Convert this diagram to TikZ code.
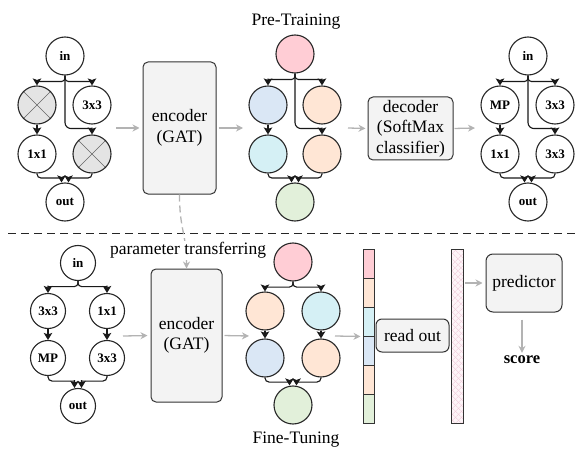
\documentclass[tikz,border=0pt]{standalone}
\usepackage{fontspec}
\setmainfont{Liberation Serif}
\usetikzlibrary{arrows.meta,patterns,patterns.meta,calc}
\definecolor{cpink}{HTML}{FFCDD5}
\definecolor{cpeach}{HTML}{FFE6D5}
\definecolor{cblue}{HTML}{DAE7F5}
\definecolor{ccyan}{HTML}{D5F0F5}
\definecolor{cgreen}{HTML}{E2F0DA}
\definecolor{cxg}{HTML}{E4E4E4}
\definecolor{cbox}{HTML}{F3F3F3}
\definecolor{cgarr}{HTML}{B3B3B3}
\definecolor{chatch}{HTML}{F0C8D8}
\definecolor{chatchbg}{HTML}{FDF5F8}
% elbow connector: source, target anchor, drop, x offset at target, corner radius
\newcommand\myelbow[5]{%
  \draw[arr] (#1) {[rounded corners=#5] -- ++(0,#3) coordinate (mElb) -- ($(mElb -| #2)+(#4,0)$)}
    ($(mElb -| #2)+(#4,-1)$) -- ($(#2)+(#4,0)$);}
\begin{document}
\begin{tikzpicture}[x=1pt,y=-1pt,
  circ/.style={circle,draw=black!85,line width=1.1pt,minimum size=38pt,inner sep=0pt,font=\bfseries\fontsize{13}{13}\selectfont},
  scirc/.style={circ,minimum size=35pt},
  xcirc/.style={circ,fill=cxg,path picture={\draw[black!60,line width=0.7pt] (path picture bounding box.north west)--(path picture bounding box.south east) (path picture bounding box.north east)--(path picture bounding box.south west);}},
  arr/.style={draw=black!90,line width=1.1pt,-{Stealth[length=7pt,width=8.5pt,inset=1.5pt]}},
  garr/.style={draw=cgarr,line width=1.3pt,-{Stealth[length=7pt,width=7pt]}},
  box/.style={draw=black!80,line width=1pt,fill=cbox,rounded corners=5pt,align=center,font=\fontsize{17.5}{20.5}\selectfont,inner sep=0pt},
  lbl/.style={font=\fontsize{17.5}{20.5}\selectfont},
  cell/.style={rectangle,draw=black!80,line width=1pt,minimum width=11pt,minimum height=29pt,inner sep=0pt},
]
\useasboundingbox (0,0) rectangle (582,460);

% ---------- Pre-training ----------
\node[lbl] (pt) at (296,22) {Pre-Training};

% graph 1
\node[circ]  (a1) at (65,56)  {in};
\node[xcirc] (a2) at (37,105) {};
\node[circ]  (a3) at (92,105) {3x3};
\node[circ]  (a4) at (37,154) {1x1};
\node[xcirc] (a5) at (92,154) {};
\node[circ]  (a6) at (65,202) {out};
\myelbow{a1.south}{a2.north}{6}{0}{3.5pt}
\myelbow{a1.south}{a3.north}{6}{0}{3.5pt}
\myelbow{a1.south}{a5.north}{53}{0}{6pt}
\draw[arr] (a2) -- (a4);
\myelbow{a4.south}{a6.north}{4.5}{-3.5}{4pt}
\myelbow{a5.south}{a6.north}{4.5}{3.5}{4pt}

% encoder top
\node[box,minimum width=73pt,minimum height=132pt] (encT) at (179.5,128) {encoder\\(GAT)};

% graph 2
\node[circ,fill=cpink]  (b1) at (295,54)  {};
\node[circ,fill=cblue]  (b2) at (268,105) {};
\node[circ,fill=cpeach] (b3) at (322,105) {};
\node[circ,fill=ccyan]  (b4) at (268,154) {};
\node[circ,fill=cpeach] (b5) at (322,154) {};
\node[circ,fill=cgreen] (b6) at (295,202) {};
\myelbow{b1.south}{b2.north}{6}{0}{3.5pt}
\myelbow{b1.south}{b3.north}{6}{0}{3.5pt}
\myelbow{b1.south}{b5.north}{55}{0}{6pt}
\draw[arr] (b2) -- (b4);
\myelbow{b4.south}{b6.north}{4.5}{-3.5}{4pt}
\myelbow{b5.south}{b6.north}{4.5}{3.5}{4pt}

% decoder
\node[box,minimum width=85pt,minimum height=63pt] (dec) at (410.5,128.5) {decoder\\(SoftMax\\classifier)};

% graph 3
\node[circ] (c1) at (528,56)  {in};
\node[circ] (c2) at (500,105) {MP};
\node[circ] (c3) at (555,105) {3x3};
\node[circ] (c4) at (500,154) {1x1};
\node[circ] (c5) at (555,154) {3x3};
\node[circ] (c6) at (528,202) {out};
\myelbow{c1.south}{c2.north}{6}{0}{3.5pt}
\myelbow{c1.south}{c3.north}{6}{0}{3.5pt}
\myelbow{c1.south}{c5.north}{53}{0}{6pt}
\draw[arr] (c2) -- (c4);
\myelbow{c4.south}{c6.north}{4.5}{-3.5}{4pt}
\myelbow{c5.south}{c6.north}{4.5}{3.5}{4pt}

% gray arrows top
\coordinate (g1r) at (116,128);
\coordinate (g2l) at (243,128);
\coordinate (g2r) at (348,128);
\coordinate (g3l) at (475,128);
\draw[garr,shorten >=3pt] (g1r) -- (encT.west);
\draw[garr,shorten <=2pt] (encT.east) -- (g2l);
\draw[garr,shorten >=2pt] (g2r) -- (dec.west);
\draw[garr,shorten <=1pt] (dec.east) -- (g3l);

% separator
\coordinate (sepL) at (8,233);
\coordinate (sepR) at (576,233);
\draw[black!85,line width=1pt,dash pattern=on 8pt off 5pt] (sepL) -- (sepR);

% ---------- Fine-tuning ----------
% encoder bottom
\node[box,minimum width=71pt,minimum height=133pt] (encB) at (186.5,335.5) {encoder\\(GAT)};

% parameter transfer
\draw[garr,dash pattern=on 7pt off 4pt] (encT.south) .. controls +(0,35) and +(0,-35) .. (encB.north);
\node[lbl,fill=white,inner sep=1pt] (ptr) at (188,250) {parameter transferring};

% graph 4
\node[scirc] (d1) at (78,263)  {in};
\node[scirc] (d2) at (48,311)  {3x3};
\node[scirc] (d3) at (107,311) {1x1};
\node[scirc] (d4) at (48,358)  {MP};
\node[scirc] (d5) at (107,358) {3x3};
\node[scirc] (d6) at (78,406)  {out};
\myelbow{d1.south}{d2.north}{5.5}{0}{3.5pt}
\myelbow{d1.south}{d3.north}{5.5}{0}{3.5pt}
\draw[arr] (d2) -- (d4);
\draw[arr] (d3) -- (d5);
\myelbow{d4.south}{d6.north}{5}{-3.5}{4pt}
\myelbow{d5.south}{d6.north}{5}{3.5}{4pt}

% graph 5
\node[circ,fill=cpink]  (e1) at (293,262) {};
\node[circ,fill=cpeach] (e2) at (265,311) {};
\node[circ,fill=ccyan]  (e3) at (321,311) {};
\node[circ,fill=cblue]  (e4) at (265,358) {};
\node[circ,fill=cpeach] (e5) at (321,358) {};
\node[circ,fill=cgreen] (e6) at (293,405) {};
\myelbow{e1.south}{e2.north}{5.5}{0}{3.5pt}
\myelbow{e1.south}{e3.north}{5.5}{0}{3.5pt}
\draw[arr] (e2) -- (e4);
\draw[arr] (e3) -- (e5);
\myelbow{e4.south}{e6.north}{4.5}{-3.5}{4pt}
\myelbow{e5.south}{e6.north}{4.5}{3.5}{4pt}
\node[lbl] (ft) at (296,440) {Fine-Tuning};

% vector
\foreach \c [count=\i] in {cpink,cpeach,ccyan,cblue,cpeach,cgreen}
  \node[cell,fill=\c] (v\i) at (368.5,{249+29*(\i-0.5)}) {};

% read out
\node[box,minimum width=73pt,minimum height=33pt,rounded corners=6pt] (ro) at (412.5,335.5) {read out};

% hatched vector
\node[rectangle,minimum width=12pt,minimum height=174pt,inner sep=0pt,fill=chatchbg,
  postaction={pattern={Lines[angle=45,distance=4pt,line width=0.5pt]},pattern color=chatch},
  postaction={pattern={Lines[angle=-45,distance=4pt,line width=0.5pt]},pattern color=chatch},
  postaction={draw=black!80,line width=1pt}] (hv) at (457,336) {};

% predictor
\node[box,minimum width=76pt,minimum height=58pt,rounded corners=7pt] (pred) at (524,283) {predictor};
\node[font=\bfseries\fontsize{16.5}{16.5}\selectfont,inner sep=1pt] (score) at (522,360) {score};

% gray arrows bottom
\coordinate (g4r) at (123,336);
\coordinate (g5l) at (249,336);
\coordinate (g5r) at (335,336);
\draw[garr,shorten >=3pt] (g4r) -- (encB.west);
\draw[garr,shorten <=2pt] (encB.east) -- (g5l);
\draw[garr,shorten >=2pt] (g5r) -- (v3.south west);
\draw[garr,shorten <=2pt,shorten >=3pt] (hv.east |- pred.west) -- (pred.west);
\draw[garr,shorten <=7pt,shorten >=2pt] ([xshift=-2pt]pred.south) -- (score.north);
\end{tikzpicture}
\end{document}
